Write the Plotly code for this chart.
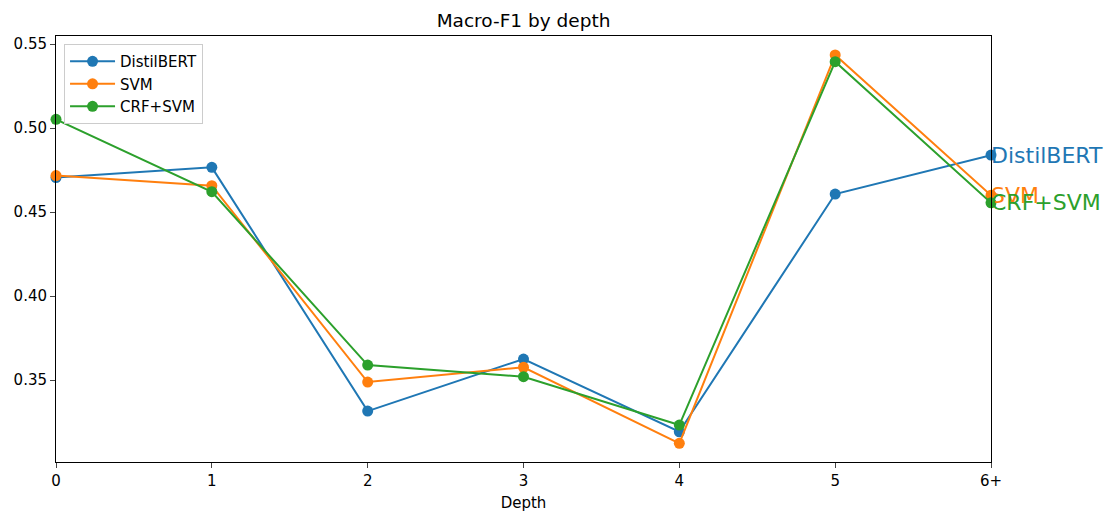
import plotly.graph_objects as go

depths = [0, 1, 2, 3, 4, 5, 6]
depth_labels = ["0", "1", "2", "3", "4", "5", "6+"]
distilbert = [0.4705, 0.4766, 0.3315, 0.3625, 0.3192, 0.4607, 0.4839]
svm = [0.4717, 0.4657, 0.3488, 0.3576, 0.3123, 0.5435, 0.4600]
crf_svm = [0.5052, 0.4621, 0.3589, 0.3520, 0.3232, 0.5395, 0.4555]

series = [("DistilBERT", distilbert, "#1f77b4"),
          ("SVM", svm, "#ff7f0e"),
          ("CRF+SVM", crf_svm, "#2ca02c")]

W, H = 1107, 512
L, R, T, B = 56, 116, 36, 50

fig = go.Figure()
for name, vals, col in series:
    fig.add_trace(go.Scatter(x=depths, y=vals, mode="lines+markers", name=name,
                             line=dict(color=col, width=2),
                             marker=dict(color=col, size=11),
                             cliponaxis=False))
    fig.add_annotation(x=depths[-1], y=vals[-1], text=name, showarrow=False,
                       xanchor="left", yanchor="middle", xshift=-2,
                       font=dict(color=col, size=22, family="DejaVu Sans"))

fig.update_layout(
    width=W, height=H,
    margin=dict(l=L, r=R, t=T, b=B, autoexpand=False),
    paper_bgcolor="white", plot_bgcolor="white",
    font=dict(family="DejaVu Sans", size=15, color="black"),
    title=dict(text="Macro-F1 by depth", x=(L + (W - R)) / 2 / W, xanchor="center",
               y=1 - 21 / H, yanchor="middle", font=dict(size=18.5)),
    legend=dict(x=0.0086, y=0.981, xanchor="left", yanchor="top",
                bordercolor="#cccccc", borderwidth=1, bgcolor="rgba(255,255,255,0.8)",
                font=dict(size=15), tracegroupgap=0, itemwidth=45),
    showlegend=True,
)
fig.update_xaxes(range=[0, 6], tickvals=depths, ticktext=depth_labels,
                 showgrid=False, zeroline=False, showline=True, linecolor="black",
                 linewidth=1, mirror=True, ticks="outside", ticklen=5,
                 tickfont=dict(size=15),
                 title=dict(text="Depth", standoff=10, font=dict(size=15)))
fig.update_yaxes(range=[0.3012, 0.5548], tickvals=[0.35, 0.40, 0.45, 0.50, 0.55],
                 tickformat=".2f", showgrid=False, zeroline=False, showline=True,
                 linecolor="black", linewidth=1, mirror=True, ticks="outside", ticklen=5,
                 tickfont=dict(size=15))

fig.write_html("out.html", config={"displayModeBar": False},
               post_script="document.body.style.margin='0px';")
